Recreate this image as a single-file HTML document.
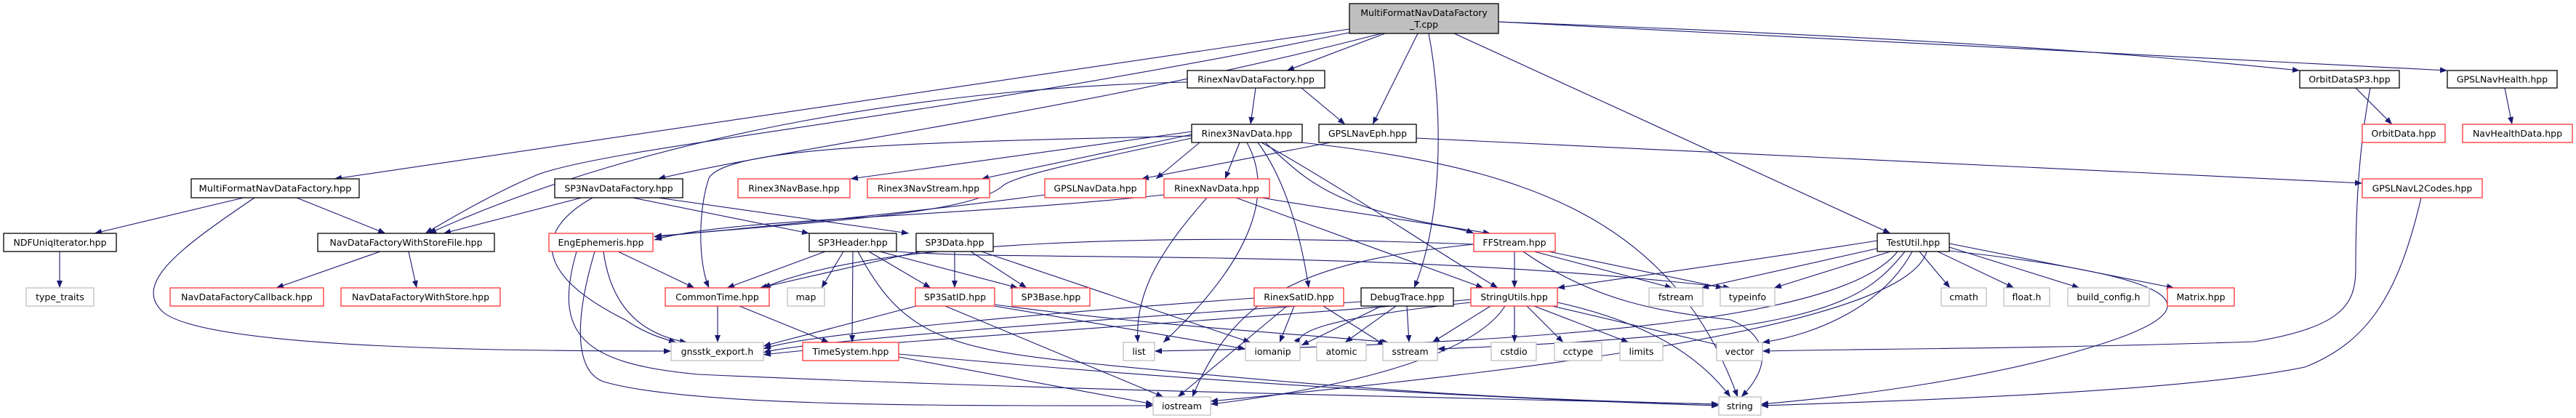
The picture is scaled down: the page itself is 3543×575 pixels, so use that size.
<!DOCTYPE html>
<html><head><meta charset="utf-8"><style>
html,body{margin:0;padding:0;background:#fff;}
svg{display:block;}
text{font-family:"DejaVu Sans","Liberation Sans",sans-serif;font-size:12.5px;fill:#000;}
.e{fill:none;stroke:#191970;stroke-width:1.1;}
.b{fill:#fff;stroke:#000;stroke-width:1.3;}
.r{fill:#fff;stroke:#ff3333;stroke-width:1.3;}
.g{fill:#fff;stroke:#c0c0c0;stroke-width:1.3;}
</style></head><body>
<svg width="3543" height="575" viewBox="0 0 3543 575" xmlns="http://www.w3.org/2000/svg">
<defs><marker id="a" viewBox="0 0 10 8" refX="10" refY="4" markerWidth="10" markerHeight="8" markerUnits="userSpaceOnUse" orient="auto"><path d="M0,0 L10,4 L0,8 z" fill="#191970"/></marker></defs>
<g marker-end="url(#a)">
<!-- from top node -->
<path class="e" d="M1856,40 L460,246"/>
<path class="e" d="M1860,44 C1300,160 850,200 740,240 C680,265 620,300 585,321"/>
<path class="e" d="M1900,46 C1500,150 1100,200 905,246"/>
<path class="e" d="M1905,46 L1770,97"/>
<path class="e" d="M1950,46 L1888,171"/>
<path class="e" d="M1965,46 C1985,150 1985,300 1945,396"/>
<path class="e" d="M2000,46 L2600,321"/>
<path class="e" d="M2061,30 C2600,50 2900,70 3163,97"/>
<path class="e" d="M2061,30 C2700,60 3100,80 3366,97"/>
<!-- RinexNavDataFactory -->
<path class="e" d="M1633,113 C1300,120 900,180 590,321"/>
<path class="e" d="M1727,121 L1720,171"/>
<path class="e" d="M1790,121 L1850,171"/>
<!-- MultiFormat hpp -->
<path class="e" d="M335,272 L130,321"/>
<path class="e" d="M408,272 L530,321"/>
<path class="e" d="M350,272 C250,340 180,390 225,430 C290,480 700,483 923,483"/>
<!-- SP3NavDataFactory -->
<path class="e" d="M800,272 L610,321"/>
<path class="e" d="M870,272 L1113,321"/>
<path class="e" d="M905,272 L1250,321"/>
<path class="e" d="M815,272 C730,320 740,380 860,440 C890,460 910,465 930,471"/>
<!-- NDFU / NDFWSF -->
<path class="e" d="M82,346 L82,396"/>
<path class="e" d="M523,346 L380,396"/>
<path class="e" d="M562,346 L573,396"/>
<!-- EngEphemeris -->
<path class="e" d="M850,346 L955,396"/>
<path class="e" d="M830,346 C840,420 880,460 945,471"/>
<path class="e" d="M818,346 C790,440 790,510 830,525 C950,560 1300,558 1586,558"/>
<path class="e" d="M793,346 C760,460 800,500 960,515 C1400,535 1900,545 2364,556"/>
<!-- Rinex3NavData -->
<path class="e" d="M1639,181 L1170,246"/>
<path class="e" d="M1639,185 L1350,246"/>
<path class="e" d="M1650,196 L1590,246"/>
<path class="e" d="M1705,196 L1685,246"/>
<path class="e" d="M1639,187 C1300,195 1000,200 975,245 C960,290 960,360 975,396"/>
<path class="e" d="M1639,190 C1500,220 1400,240 1380,255 C1340,290 1200,300 900,325"/>
<path class="e" d="M1715,196 C1750,260 1730,350 1600,471"/>
<path class="e" d="M1730,196 C1770,250 1790,330 1800,396"/>
<path class="e" d="M1740,196 C1800,250 1830,290 2050,321"/>
<path class="e" d="M1735,196 C1850,260 1950,330 2060,396"/>
<path class="e" d="M1790,196 C2100,230 2300,300 2390,546"/>
<!-- GPSLNavEph -->
<path class="e" d="M1948,190 L3249,252"/>
<path class="e" d="M1830,196 L1570,246"/>
<!-- GPSLNavData / RinexNavData -->
<path class="e" d="M1437,268 C1200,300 950,320 900,326"/>
<path class="e" d="M1601,268 C1300,300 1000,300 900,330"/>
<path class="e" d="M1660,272 C1600,340 1560,400 1565,471"/>
<path class="e" d="M1735,272 C1900,300 2000,310 2027,321"/>
<path class="e" d="M1700,272 L2040,396"/>
<!-- SP3Header -->
<path class="e" d="M1135,346 L1000,396"/>
<path class="e" d="M1160,346 L1130,396"/>
<path class="e" d="M1173,346 L1172,471"/>
<path class="e" d="M1195,346 L1280,396"/>
<path class="e" d="M1210,346 L1400,396"/>
<path class="e" d="M1180,346 C1240,460 1300,480 1500,500 C1900,540 2100,550 2364,556"/>
<path class="e" d="M1233,346 C1400,360 1900,340 2380,396"/>
<!-- SP3Data -->
<path class="e" d="M1265,346 L1045,396"/>
<path class="e" d="M1313,346 L1313,396"/>
<path class="e" d="M1335,346 L1412,396"/>
<path class="e" d="M1350,346 L1720,471"/>
<!-- CommonTime / TimeSystem -->
<path class="e" d="M987,421 L987,471"/>
<path class="e" d="M1017,421 L1140,471"/>
<path class="e" d="M1236,491 L1586,556"/>
<path class="e" d="M1236,487 C1700,530 2100,550 2364,558"/>
<!-- SP3SatID -->
<path class="e" d="M1260,421 L1050,476"/>
<path class="e" d="M1300,421 L1600,546"/>
<path class="e" d="M1368,421 L1713,480"/>
<path class="e" d="M1368,419 C1600,450 1800,460 1910,471"/>
<!-- RinexSatID -->
<path class="e" d="M1725,410 C1450,430 1100,460 1050,480"/>
<path class="e" d="M1770,421 L1620,546"/>
<path class="e" d="M1780,421 L1760,471"/>
<path class="e" d="M1820,421 L1905,475"/>
<!-- DebugTrace -->
<path class="e" d="M1900,421 L1790,475"/>
<path class="e" d="M1920,421 L1850,471"/>
<path class="e" d="M1935,421 L1938,471"/>
<path class="e" d="M1872,415 C1500,440 1100,470 1050,485"/>
<!-- FFStream -->
<path class="e" d="M2083,346 L2083,396"/>
<path class="e" d="M2110,346 L2300,396"/>
<path class="e" d="M2130,346 L2370,396"/>
<path class="e" d="M2095,346 C2200,420 2300,430 2380,440 C2430,460 2440,500 2395,546"/>
<path class="e" d="M2027,336 C1800,360 1700,400 1640,546"/>
<path class="e" d="M2027,336 C1600,320 1200,330 1050,396"/>
<!-- StringUtils -->
<path class="e" d="M2050,421 L1970,471"/>
<path class="e" d="M2083,421 L2083,471"/>
<path class="e" d="M2100,421 L2150,471"/>
<path class="e" d="M2110,421 L2240,471"/>
<path class="e" d="M2135,421 L2370,476"/>
<path class="e" d="M2142,416 C2250,440 2330,480 2380,546"/>
<path class="e" d="M2070,421 C2020,500 1800,540 1665,556"/>
<path class="e" d="M2023,416 C1800,440 1780,460 1788,475"/>
<path class="e" d="M2023,412 C1700,440 1200,470 1050,488"/>
<!-- TestUtil -->
<path class="e" d="M2582,331 C2400,360 2250,380 2142,396"/>
<path class="e" d="M2590,340 L2340,396"/>
<path class="e" d="M2600,346 L2440,396"/>
<path class="e" d="M2640,346 L2682,396"/>
<path class="e" d="M2665,346 L2770,396"/>
<path class="e" d="M2681,340 L2860,396"/>
<path class="e" d="M2681,335 L2990,396"/>
<path class="e" d="M2630,346 C2590,420 2500,460 2424,471"/>
<path class="e" d="M2620,346 C2560,420 2500,460 1977,480"/>
<path class="e" d="M2610,346 C2550,420 2300,470 1588,483"/>
<path class="e" d="M2681,345 C3000,380 3050,420 2900,470 C2750,520 2550,545 2422,556"/>
<path class="e" d="M2650,346 C2620,450 2100,510 1665,552"/>
<!-- right side -->
<path class="e" d="M3260,121 C3245,200 3240,280 3240,370 C3240,420 3220,450 3100,470 C2800,480 2550,480 2424,483"/>
<path class="e" d="M3240,121 L3290,171"/>
<path class="e" d="M3445,121 L3455,171"/>
<path class="e" d="M3330,272 C3300,400 3260,470 3170,505 C3000,540 2600,552 2422,558"/>
</g>
<!-- nodes -->
<rect x="1856" y="5" width="205" height="41" fill="#bfbfbf" stroke="#000" stroke-width="1.3"/>
<text x="1958.5" y="22" text-anchor="middle">MultiFormatNavDataFactory</text>
<text x="1958.5" y="38" text-anchor="middle">_T.cpp</text>
<g>
<rect class="b" x="263" y="246" width="231" height="26"/><text x="378.5" y="263.5" text-anchor="middle" textLength="210" lengthAdjust="spacingAndGlyphs">MultiFormatNavDataFactory.hpp</text>
<rect class="b" x="5" y="321" width="155" height="25"/><text x="82.5" y="338" text-anchor="middle">NDFUniqIterator.hpp</text>
<rect class="b" x="437" y="321" width="243" height="25"/><text x="558.5" y="338" text-anchor="middle">NavDataFactoryWithStoreFile.hpp</text>
<rect class="b" x="763" y="246" width="176" height="26"/><text x="851" y="263.5" text-anchor="middle">SP3NavDataFactory.hpp</text>
<rect class="r" x="755" y="321" width="143" height="25"/><text x="826.5" y="338" text-anchor="middle">EngEphemeris.hpp</text>
<rect class="g" x="36" y="396" width="93" height="25"/><text x="82.5" y="413" text-anchor="middle">type_traits</text>
<rect class="r" x="234" y="396" width="211" height="25"/><text x="339.5" y="413" text-anchor="middle">NavDataFactoryCallback.hpp</text>
<rect class="r" x="469" y="396" width="219" height="25"/><text x="578.5" y="413" text-anchor="middle">NavDataFactoryWithStore.hpp</text>
<rect class="b" x="1633" y="97" width="189" height="24"/><text x="1727.5" y="113.5" text-anchor="middle">RinexNavDataFactory.hpp</text>
<rect class="b" x="1639" y="171" width="152" height="25"/><text x="1715" y="188" text-anchor="middle">Rinex3NavData.hpp</text>
<rect class="r" x="1015" y="246" width="154" height="26"/><text x="1092" y="263.5" text-anchor="middle">Rinex3NavBase.hpp</text>
<rect class="r" x="1193" y="246" width="168" height="26"/><text x="1277" y="263.5" text-anchor="middle">Rinex3NavStream.hpp</text>
<rect class="r" x="1437" y="246" width="139" height="26"/><text x="1506.5" y="263.5" text-anchor="middle">GPSLNavData.hpp</text>
<rect class="r" x="1601" y="246" width="145" height="26"/><text x="1673.5" y="263.5" text-anchor="middle">RinexNavData.hpp</text>
<rect class="b" x="1113" y="321" width="120" height="25"/><text x="1173" y="338" text-anchor="middle">SP3Header.hpp</text>
<rect class="b" x="1260" y="321" width="106" height="25"/><text x="1313" y="338" text-anchor="middle">SP3Data.hpp</text>
<rect class="r" x="915" y="396" width="143" height="25"/><text x="986.5" y="413" text-anchor="middle">CommonTime.hpp</text>
<rect class="g" x="1083" y="396" width="51" height="25"/><text x="1108.5" y="413" text-anchor="middle">map</text>
<rect class="r" x="1259" y="396" width="109" height="25"/><text x="1313.5" y="413" text-anchor="middle">SP3SatID.hpp</text>
<rect class="r" x="1392" y="396" width="107" height="25"/><text x="1445.5" y="413" text-anchor="middle">SP3Base.hpp</text>
<rect class="r" x="1725" y="396" width="123" height="25"/><text x="1786.5" y="413" text-anchor="middle">RinexSatID.hpp</text>
<rect class="g" x="923" y="471" width="127" height="25"/><text x="986.5" y="488" text-anchor="middle">gnsstk_export.h</text>
<rect class="r" x="1104" y="471" width="132" height="25"/><text x="1170" y="488" text-anchor="middle">TimeSystem.hpp</text>
<rect class="g" x="1545" y="471" width="43" height="25"/><text x="1566.5" y="488" text-anchor="middle">list</text>
<rect class="g" x="1713" y="471" width="75" height="25"/><text x="1750.5" y="488" text-anchor="middle">iomanip</text>
<rect class="g" x="1586" y="546" width="79" height="25"/><text x="1625.5" y="563" text-anchor="middle">iostream</text>
<rect class="b" x="1814" y="171" width="134" height="25"/><text x="1881" y="188" text-anchor="middle">GPSLNavEph.hpp</text>
<rect class="r" x="2027" y="321" width="112" height="25"/><text x="2083" y="338" text-anchor="middle">FFStream.hpp</text>
<rect class="b" x="2582" y="321" width="99" height="25"/><text x="2631.5" y="338" text-anchor="middle">TestUtil.hpp</text>
<rect class="b" x="1872" y="396" width="127" height="25"/><text x="1935.5" y="413" text-anchor="middle">DebugTrace.hpp</text>
<rect class="r" x="2023" y="396" width="119" height="25"/><text x="2082.5" y="413" text-anchor="middle">StringUtils.hpp</text>
<rect class="g" x="2268" y="396" width="74" height="25"/><text x="2305" y="413" text-anchor="middle">fstream</text>
<rect class="g" x="2366" y="396" width="75" height="25"/><text x="2403.5" y="413" text-anchor="middle">typeinfo</text>
<rect class="g" x="2670" y="396" width="62" height="25"/><text x="2701" y="413" text-anchor="middle">cmath</text>
<rect class="g" x="2756" y="396" width="63" height="25"/><text x="2787.5" y="413" text-anchor="middle">float.h</text>
<rect class="g" x="2844" y="396" width="112" height="25"/><text x="2900" y="413" text-anchor="middle">build_config.h</text>
<rect class="r" x="2981" y="396" width="92" height="25"/><text x="3027" y="413" text-anchor="middle">Matrix.hpp</text>
<rect class="g" x="1811" y="471" width="68" height="25"/><text x="1845" y="488" text-anchor="middle">atomic</text>
<rect class="g" x="1902" y="471" width="75" height="25"/><text x="1939.5" y="488" text-anchor="middle">sstream</text>
<rect class="g" x="2051" y="471" width="62" height="25"/><text x="2082" y="488" text-anchor="middle">cstdio</text>
<rect class="g" x="2138" y="471" width="65" height="25"/><text x="2170.5" y="488" text-anchor="middle">cctype</text>
<rect class="g" x="2228" y="471" width="59" height="25"/><text x="2257.5" y="488" text-anchor="middle">limits</text>
<rect class="g" x="2361" y="471" width="63" height="25"/><text x="2392.5" y="488" text-anchor="middle">vector</text>
<rect class="g" x="2364" y="546" width="58" height="25"/><text x="2393" y="563" text-anchor="middle">string</text>
<rect class="b" x="3163" y="97" width="137" height="24"/><text x="3231.5" y="113.5" text-anchor="middle">OrbitDataSP3.hpp</text>
<rect class="b" x="3366" y="97" width="151" height="24"/><text x="3441.5" y="113.5" text-anchor="middle">GPSLNavHealth.hpp</text>
<rect class="r" x="3249" y="171" width="114" height="25"/><text x="3306" y="188" text-anchor="middle">OrbitData.hpp</text>
<rect class="r" x="3387" y="171" width="151" height="25"/><text x="3462.5" y="188" text-anchor="middle">NavHealthData.hpp</text>
<rect class="r" x="3249" y="246" width="165" height="26"/><text x="3331.5" y="263.5" text-anchor="middle">GPSLNavL2Codes.hpp</text>
</g>
</svg>
</body></html>
